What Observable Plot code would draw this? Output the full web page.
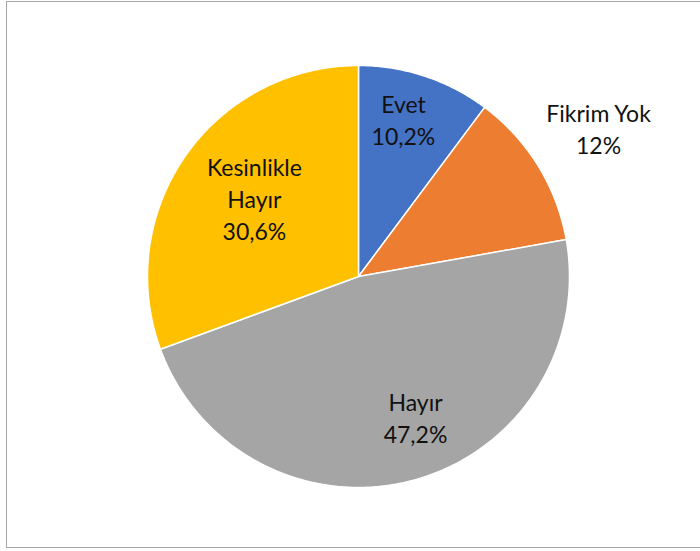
<!DOCTYPE html>
<html>
<head>
<meta charset="utf-8">
<script src="https://cdn.jsdelivr.net/npm/d3@7"></script>
<script src="https://cdn.jsdelivr.net/npm/@observablehq/plot@0.6"></script>
<style>
  html, body { margin: 0; padding: 0; background: #fff; }
  #wrap { position: relative; width: 700px; height: 551px; overflow: hidden; }
  #border { position: absolute; left: 6px; top: 1px; width: 720px; height: 547px;
            border: 1.5px solid #a6a6a6; box-sizing: border-box; pointer-events: none; }
  svg { display: block; }
</style>
</head>
<body>
<div id="wrap"><div id="border"></div></div>
<script>
// ---- data ----
const categories = ["Evet", "Fikrim Yok", "Hayır", "Kesinlikle Hayır"];
const values = [10.2, 12, 47.2, 30.6];
const valueLabels = ["10,2%", "12%", "47,2%", "30,6%"];
const labelNames = ["Evet", "Fikrim Yok", "Hayır", "Kesinlikle\nHayır"];

// ---- style / layout ----
const colors = ["#4472C4", "#ED7D31", "#A5A5A5", "#FFC000"];
const labelRadius = [0.765, 1.33, 0.73, 0.61];   // fraction of pie radius
const labelAngleNudge = [-2.2, 0.5, -6.6, 1.1];  // degrees

const pie = d3.pie().sort(null).value(d => d.value)(
  categories.map((c, i) => ({category: c, value: values[i]}))
);

// polygon outlines for each slice (unit circle, angle 0 at top, clockwise)
const slicePts = [];
pie.forEach(a => {
  const n = Math.max(4, Math.ceil((a.endAngle - a.startAngle) / 0.01));
  slicePts.push({category: a.data.category, x: 0, y: 0});
  for (let k = 0; k <= n; k++) {
    const t = a.startAngle + (a.endAngle - a.startAngle) * k / n;
    slicePts.push({category: a.data.category, x: Math.sin(t), y: Math.cos(t)});
  }
});

const labels = pie.map((a, i) => {
  const t = (a.startAngle + a.endAngle) / 2 + labelAngleNudge[i] * Math.PI / 180;
  return {
    x: labelRadius[i] * Math.sin(t),
    y: labelRadius[i] * Math.cos(t),
    text: labelNames[i] + "\n" + valueLabels[i]
  };
});

const chart = Plot.plot({
  width: 700,
  height: 551,
  margin: 0,
  x: {domain: [-1, 1], range: [147, 569], axis: null},
  y: {domain: [-1, 1], range: [487, 65], axis: null},
  color: {domain: categories, range: colors},
  style: {background: "transparent", fontFamily: "Lato, 'Open Sans', sans-serif"},
  marks: [
    Plot.line(slicePts, {
      x: "x", y: "y", z: "category", fill: "category",
      stroke: "#ffffff", strokeWidth: 1.5, curve: "linear-closed"
    }),
    Plot.text(labels, {
      x: "x", y: "y", text: "text", dy: -3,
      fontSize: 23, lineHeight: 1.39, fill: "#111", lineAnchor: "middle"
    })
  ]
});
document.getElementById("wrap").prepend(chart);
</script>
</body>
</html>
